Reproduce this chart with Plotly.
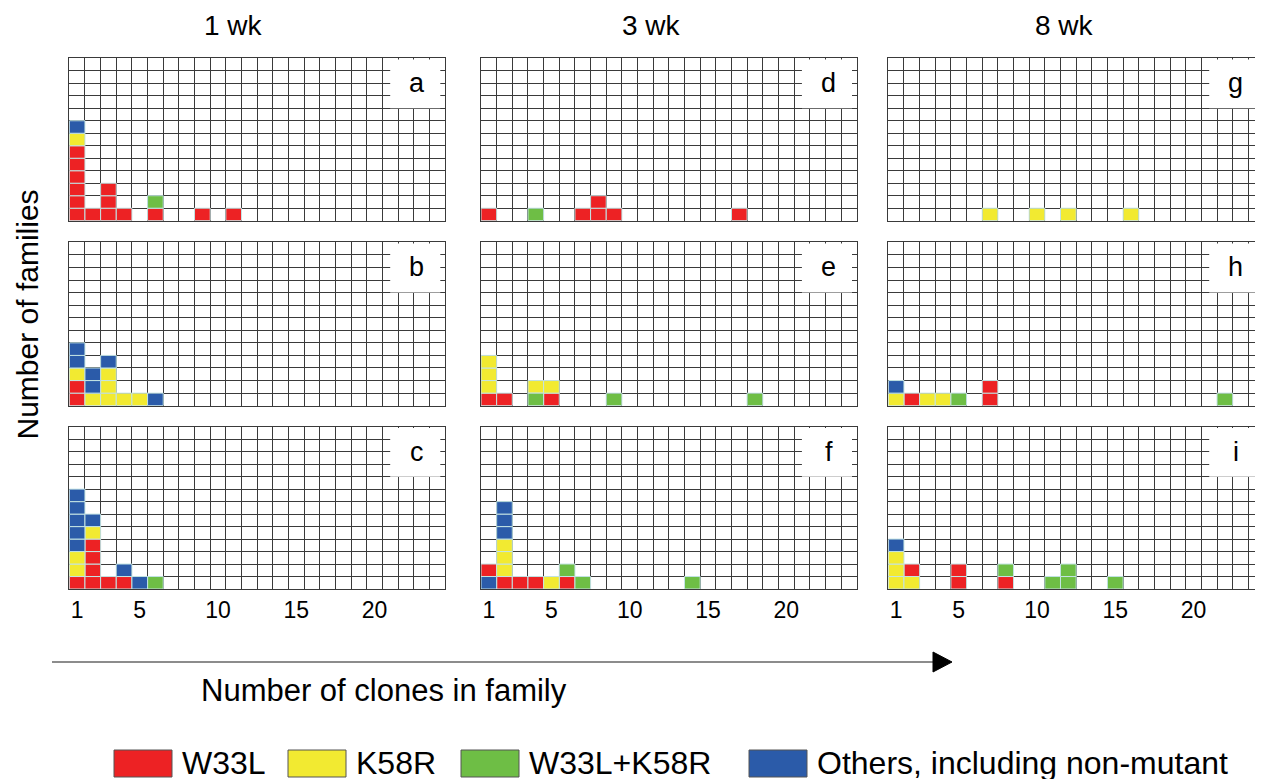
import plotly.graph_objects as go

# ---------------- data ----------------
CATEGORY_CODES = ["R", "Y", "G", "B"]
CATEGORY_NAMES = ["W33L", "K58R", "W33L+K58R", "Others, including non-mutant"]
CATEGORY_COLORS = ["#ED2224", "#F2EA31", "#6EBE45", "#2B5BA9"]

TIME_LABELS = ["1 wk", "3 wk", "8 wk"]
X_TICKS = [1, 5, 10, 15, 20]
N_COLUMNS = 24   # clone-count bins shown
N_ROWS = 13      # family-count rows shown

# each panel: clones-in-family -> stack of families (bottom to top), coded by category
panel_a = {1: "RRRRRRYB", 2: "R", 3: "RRR", 4: "R", 6: "RG", 9: "R", 11: "R"}
panel_b = {1: "RRYBB", 2: "YBB", 3: "YYYB", 4: "Y", 5: "Y", 6: "B"}
panel_c = {1: "RYYBBBBB", 2: "RRRRYB", 3: "R", 4: "RB", 5: "B", 6: "G"}
panel_d = {1: "R", 4: "G", 7: "R", 8: "RR", 9: "R", 17: "R"}
panel_e = {1: "RYYY", 2: "R", 4: "GY", 5: "RY", 9: "G", 18: "G"}
panel_f = {1: "BR", 2: "RYYYBBB", 3: "R", 4: "R", 5: "Y", 6: "RG", 7: "G", 14: "G"}
panel_g = {7: "Y", 10: "Y", 12: "Y", 16: "Y"}
panel_h = {1: "YB", 2: "R", 3: "Y", 4: "Y", 5: "G", 7: "RR", 22: "G"}
panel_i = {1: "YYYB", 2: "YR", 5: "RR", 8: "RG", 11: "G", 12: "GG", 15: "G"}

PANEL_LETTERS = ["a", "b", "c", "d", "e", "f", "g", "h", "i"]
PANEL_DATA = [panel_a, panel_b, panel_c, panel_d, panel_e, panel_f, panel_g, panel_h, panel_i]

# ---------------- layout geometry (screen pixels) ----------------
W, H = 1263, 779
OFF = 8  # page body margin
FONT = "Liberation Sans, Arial, sans-serif"
COL_X = [(69.3, 445.0), (481.0, 856.7), (888.3, 1264.0)]
ROW_Y = [(58.3, 220.7), (242.3, 405.7), (426.7, 589.0)]


def px(x):
    return (x - OFF) / W


def py(y):
    return 1 - (y - OFF) / H


fig = go.Figure()
annotations = []
shapes = []

for idx, (letter, data) in enumerate(zip(PANEL_LETTERS, PANEL_DATA)):
    col, row = idx // 3, idx % 3
    n = idx + 1
    xref = "x" if n == 1 else f"x{n}"
    yref = "y" if n == 1 else f"y{n}"
    for code, name, color in zip(CATEGORY_CODES, CATEGORY_NAMES, CATEGORY_COLORS):
        xs, bases = [], []
        for clones, stack in data.items():
            for lvl, ch in enumerate(stack):
                if ch == code:
                    xs.append(clones)
                    bases.append(lvl + 0.5)
        if xs:
            fig.add_trace(go.Bar(
                x=xs, y=[1] * len(xs), base=bases, width=1,
                marker=dict(color=color, line=dict(color="#C4E4E4", width=1)),
                xaxis=xref, yaxis=yref, name=name, showlegend=False,
                hoverinfo="skip",
            ))
    x0, x1 = COL_X[col]
    y0, y1 = ROW_Y[row]
    axis_x = dict(
        domain=[px(x0), px(x1)], range=[0.5, N_COLUMNS + 0.5], anchor=yref,
        tickmode="array", tickvals=X_TICKS, showticklabels=(row == 2),
        ticks="", showgrid=False, zeroline=False,
        minor=dict(tick0=0.5, dtick=1, showgrid=True, gridcolor="#3a3a3a", gridwidth=1, ticks=""),
        showline=True, mirror=True, linecolor="#3a3a3a", linewidth=1,
        tickfont=dict(family=FONT, size=23, color="black"), fixedrange=True,
    )
    axis_y = dict(
        domain=[py(y1), py(y0)], range=[0.5, N_ROWS + 0.5], anchor=xref,
        tick0=0.5, dtick=1, showticklabels=False, ticks="",
        showgrid=True, gridcolor="#3a3a3a", gridwidth=1, zeroline=False,
        showline=True, mirror=True, linecolor="#3a3a3a", linewidth=1, fixedrange=True,
    )
    fig.update_layout(**{("xaxis" if n == 1 else f"xaxis{n}"): axis_x,
                         ("yaxis" if n == 1 else f"yaxis{n}"): axis_y})
    # white label box with panel letter
    shapes.append(dict(type="rect", xref=xref, yref=yref, x0=21.0, x1=24.2, y0=9.5, y1=13.4,
                       fillcolor="white", line=dict(width=0), layer="above"))
    annotations.append(dict(text=letter, xref=xref, yref=yref, x=22.7, y=11.5,
                            xanchor="center", yanchor="middle",
                            showarrow=False, font=dict(family=FONT, size=27, color="black")))

# column titles (anchored to the top edge so they are not clipped)
for t, cx in zip(TIME_LABELS, [233, 651, 1064]):
    annotations.append(dict(text=t, xref="paper", yref="paper", x=px(cx), y=1.0,
                            xanchor="center", yanchor="top",
                            showarrow=False, font=dict(family=FONT, size=28, color="black")))

# y title (anchored to the left edge so it is not clipped)
annotations.append(dict(text="Number of families", xref="paper", yref="paper", x=0.0, y=py(315),
                        xanchor="left", yanchor="middle",
                        textangle=-90, showarrow=False, font=dict(family=FONT, size=30, color="black")))

# x title with arrow
shapes.append(dict(type="line", xref="paper", yref="paper", x0=px(52), x1=px(936), y0=py(662), y1=py(662),
                   line=dict(color="#666666", width=1.5)))
shapes.append(dict(type="path", xref="paper", yref="paper",
                   path=f"M {px(933)} {py(652)} L {px(952)} {py(662)} L {px(933)} {py(672)} Z",
                   fillcolor="black", line=dict(color="black", width=1)))
annotations.append(dict(text="Number of clones in family", xref="paper", yref="paper", x=px(199), y=py(690),
                        xanchor="left", yanchor="middle",
                        showarrow=False, font=dict(family=FONT, size=31, color="black")))

# custom legend
legend_x = [114, 288, 461, 749]
for lx, name, color in zip(legend_x, CATEGORY_NAMES, CATEGORY_COLORS):
    shapes.append(dict(type="rect", xref="paper", yref="paper", x0=px(lx), x1=px(lx + 58),
                       y0=py(777), y1=py(750), fillcolor=color, line=dict(color="#555555", width=1)))
    annotations.append(dict(text=name, xref="paper", yref="paper", x=px(lx + 66), y=py(763),
                            xanchor="left", yanchor="middle",
                            showarrow=False, font=dict(family=FONT, size=32, color="black")))

fig.update_layout(
    width=W, height=H, margin=dict(l=0, r=0, t=0, b=0),
    paper_bgcolor="white", plot_bgcolor="white", barmode="overlay",
    showlegend=False, annotations=annotations, shapes=shapes,
)

fig.write_html("out.html")
